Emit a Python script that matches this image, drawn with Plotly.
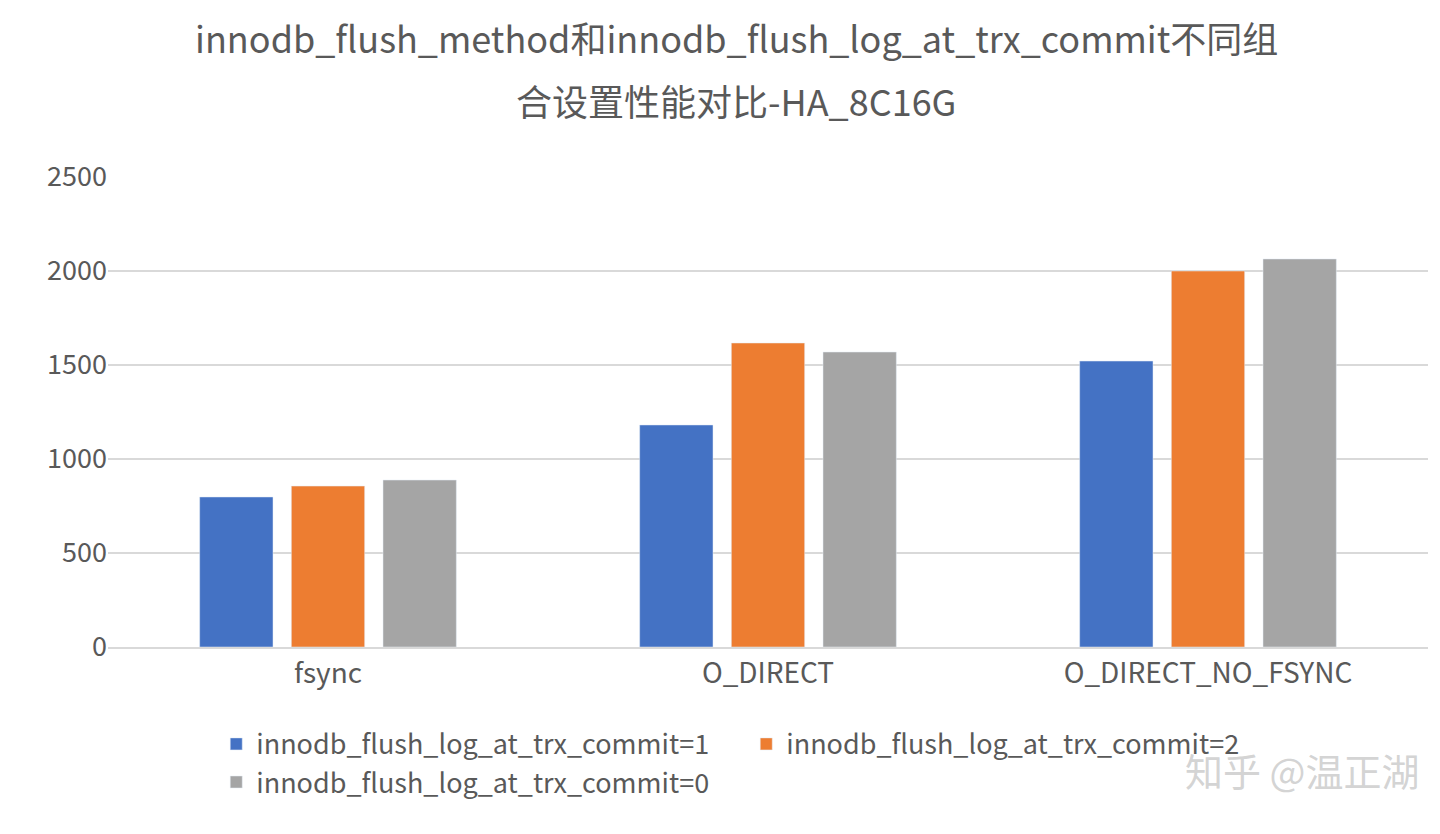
import plotly.graph_objects as go

categories = ["fsync", "O_DIRECT", "O_DIRECT_NO_FSYNC"]
series_names = ["innodb_flush_log_at_trx_commit=1",
                "innodb_flush_log_at_trx_commit=2",
                "innodb_flush_log_at_trx_commit=0"]
commit1 = [798, 1181, 1521]
commit2 = [856, 1617, 2000]
commit0 = [888, 1569, 2064]
colors = ["#4472C4", "#ED7D31", "#A5A5A5"]

font = "Noto Sans CJK SC"
fig = go.Figure()
for name, vals, c in zip(series_names, [commit1, commit2, commit0], colors):
    fig.add_trace(go.Bar(x=categories, y=vals, name=name, marker_color=c))

# plot area spans 177..647 px in the reference (470 px high)
fig.update_layout(
    width=1440, height=834,
    paper_bgcolor="white", plot_bgcolor="white",
    barmode="group", bargap=0.375, bargroupgap=0.2,
    font=dict(family=font, color="#595959", size=27),
    margin=dict(l=100, r=20, t=169, b=195, autoexpand=False),
    legend=dict(orientation="h", x=0.082, xanchor="left", y=-0.155, yanchor="top",
                font=dict(size=27, color="#595959"), itemwidth=30,
                entrywidth=485, traceorder="normal", tracegroupgap=0),
)
fig.add_annotation(text="innodb_flush_method和innodb_flush_log_at_trx_commit不同组",
                   xref="paper", yref="paper", x=0.476, y=1.0 + (177 - 37) / 470,
                   showarrow=False, yanchor="middle", font=dict(size=36, color="#595959"))
fig.add_annotation(text="合设置性能对比-HA_8C16G",
                   xref="paper", yref="paper", x=0.476, y=1.0 + (177 - 100) / 470,
                   showarrow=False, yanchor="middle", font=dict(size=36, color="#595959"))
fig.update_yaxes(range=[0, 2500], dtick=500, showgrid=True, gridcolor="#D9D9D9",
                 gridwidth=2, zeroline=False, ticks="", ticklen=0,
                 tickfont=dict(size=27))
fig.update_xaxes(showline=True, linecolor="#D9D9D9", linewidth=2, ticks="",
                 tickfont=dict(size=28))
fig.add_annotation(text="知乎 @温正湖", xref="paper", yref="paper", x=0.995, y=-0.26,
                   xanchor="right", yanchor="middle", showarrow=False,
                   font=dict(size=38, color="rgba(200,200,200,0.8)"))
fig.write_html("out.html")
